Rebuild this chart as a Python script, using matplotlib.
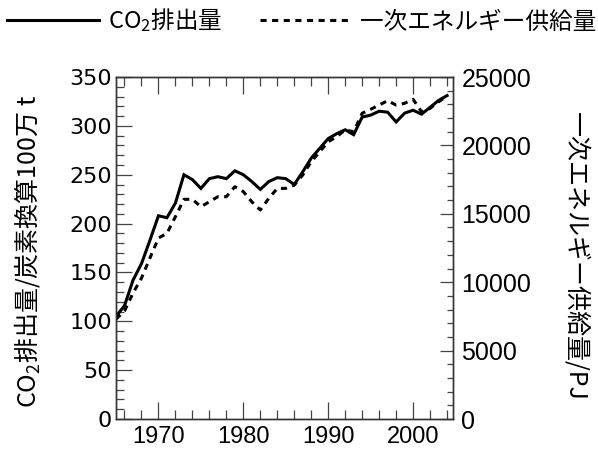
import matplotlib
matplotlib.use("Agg")
import matplotlib.pyplot as plt
import matplotlib.ticker as mticker
import numpy as np

plt.rcParams["font.family"] = ["Noto Sans CJK JP", "DejaVu Sans"]
plt.rcParams["mathtext.default"] = "regular"
plt.rcParams["axes.unicode_minus"] = False

# ---------------------------------------------------------------------------
# Data
# ---------------------------------------------------------------------------
years = np.arange(1965, 2005)

co2_emission = [105, 116, 142, 159, 183,
                208, 206, 221, 250, 245, 236, 246, 248, 246, 254,
                250, 243, 235, 243, 247, 246, 240, 253, 267, 277,
                287, 292, 296, 291, 309, 311, 315, 314, 304, 313,
                316, 312, 319, 326, 331]

energy_supply = [7300, 7900, 9200, 10300, 11770,
                 13230, 13570, 14790, 16060, 16060, 15520, 15880, 16250, 16250, 16980,
                 16620, 15880, 15280, 16130, 16860, 16860, 17100, 17840, 18810, 19540,
                 20270, 20640, 21130, 21000, 22350, 22640, 22950, 23270, 22950, 23080,
                 23370, 22460, 22710, 23190, 23610]

x_ticks = [1970, 1980, 1990, 2000]
left_ticks = [0, 50, 100, 150, 200, 250, 300, 350]
right_ticks = [0, 5000, 10000, 15000, 20000, 25000]

label_co2 = "CO$_2$排出量"
label_energy = "一次エネルギー供給量"
ylabel_left = "CO$_2$排出量/炭素換算100万 t"
ylabel_right = "一次エネルギー供給量/PJ"

# ---------------------------------------------------------------------------
# Figure
# ---------------------------------------------------------------------------
fig = plt.figure(figsize=(5.98, 4.53), dpi=100)
ax = fig.add_axes([0.194, 0.075, 0.5635, 0.755])
ax2 = ax.twinx()

line1, = ax.plot(years, co2_emission, color="black", linewidth=2.2,
                 solid_joinstyle="miter", label=label_co2)
line2, = ax2.plot(years, energy_supply, color="black", linewidth=2.2,
                  linestyle=(0, (2.0, 1.8)), label=label_energy)

ax.set_xlim(1965, 2004.7)
ax.set_ylim(0, 350)
ax2.set_ylim(0, 25000)

ax.set_xticks(x_ticks)
ax.set_yticks(left_ticks)
ax2.set_yticks(right_ticks)
ax.xaxis.set_minor_locator(mticker.MultipleLocator(2))
ax.yaxis.set_minor_locator(mticker.MultipleLocator(10))
ax2.yaxis.set_minor_locator(mticker.MultipleLocator(1000))

for a in (ax, ax2):
    for sp in a.spines.values():
        sp.set_linewidth(1.0)
        sp.set_color("#333333")

ax.tick_params(axis="both", which="both", direction="in", top=True,
               right=False, color="#444444", width=0.9)
ax.tick_params(axis="y", which="major", length=11.5, pad=3)
ax.tick_params(axis="y", which="minor", length=6)
ax.tick_params(axis="x", which="major", length=12, pad=5)
ax.tick_params(axis="x", which="minor", length=6.5)
ax2.tick_params(axis="y", which="both", direction="in", color="#444444",
                width=0.9, pad=6)
ax2.tick_params(axis="y", which="major", length=9.5)
ax2.tick_params(axis="y", which="minor", length=4)

for t in ax.get_yticklabels():
    t.set_fontfamily("DejaVu Sans")
    t.set_fontsize(16)
for t in ax.get_xticklabels():
    t.set_fontfamily("Liberation Sans")
    t.set_fontsize(17)
for t in ax2.get_yticklabels():
    t.set_fontfamily("Liberation Sans")
    t.set_fontsize(18)

fig.text(0.045, 0.446, ylabel_left, rotation=90, fontsize=18,
         ha="center", va="center")
fig.text(0.963, 0.435, ylabel_right, rotation=-90, fontsize=18,
         ha="center", va="center")

fig.legend(handles=[line1, line2], loc="center left",
           bbox_to_anchor=(0.012, 0.955), ncol=2, frameon=False,
           fontsize=17, handlelength=3.9, handletextpad=0.35,
           columnspacing=1.6, borderpad=0, borderaxespad=0)

fig.savefig("out.png", dpi=100, facecolor="white")
